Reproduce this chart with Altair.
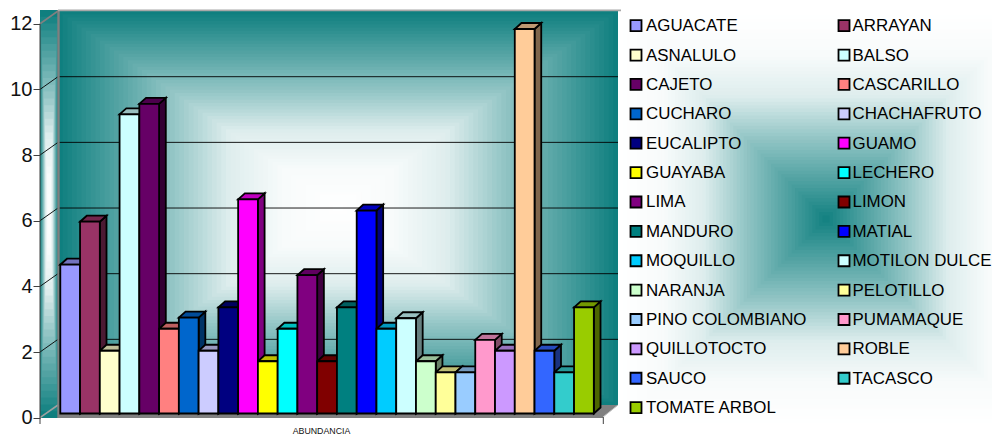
import altair as alt
import numpy as np
import pandas as pd

names = ["AGUACATE", "ARRAYAN", "ASNALULO", "BALSO", "CAJETO", "CASCARILLO", "CUCHARO",
         "CHACHAFRUTO", "EUCALIPTO", "GUAMO", "GUAYABA", "LECHERO", "LIMA", "LIMON",
         "MANDURO", "MATIAL", "MOQUILLO", "MOTILON DULCE", "NARANJA", "PELOTILLO",
         "PINO COLOMBIANO", "PUMAMAQUE", "QUILLOTOCTO", "ROBLE", "SAUCO", "TACASCO",
         "TOMATE ARBOL"]
values = [4.66, 5.97, 2.04, 9.24, 9.56, 2.71, 3.05, 2.04, 3.36, 6.65, 1.72, 2.71, 4.34, 1.72,
          3.36, 6.31, 2.71, 3.03, 1.72, 1.38, 1.38, 2.37, 2.04, 11.84, 2.04, 1.38, 3.36]
colors = ["#9999ff", "#993366", "#ffffcc", "#ccffff", "#660066", "#ff8080", "#0066cc",
          "#ccccff", "#000080", "#ff00ff", "#ffff00", "#00ffff", "#800080", "#800000",
          "#008080", "#0000ff", "#00ccff", "#ccffff", "#ccffcc", "#ffff99",
          "#99ccff", "#ff99cc", "#cc99ff", "#ffcc99", "#3366ff", "#33cccc", "#99cc00"]
y_ticks = [0, 2, 4, 6, 8, 10, 12]
FONT = "Liberation Sans"
TEAL = "#0f7f7f"

# page pixel <-> data unit (x in bar slots, y in axis values)
SLOT, SLOT0 = 19.76, 60.3
UNIT, ZERO = 32.83, 417.7
def sx(p): return (p - SLOT0) / SLOT
def sy(p): return (ZERO - p) / UNIT

LEFT, RIGHT, TOP, BOTTOM = 40, 992, 10, 434
DX, DY = 6.7 / SLOT, 6.0 / UNIT
BASE = sy(413.5)
xs = alt.Scale(domain=[sx(LEFT), sx(RIGHT)], nice=False, zero=False)
ys = alt.Scale(domain=[sy(BOTTOM), sy(TOP)], nice=False, zero=False)
AX = alt.Axis(values=y_ticks, domain=False, grid=False, tickSize=7, tickColor="#404040", tickWidth=1,
              labelFont=FONT, labelFontSize=20, labelColor="#111111", labelPadding=1, format="d")
X = alt.X("x:Q", scale=xs, axis=None)
Y = alt.Y("y:Q", scale=ys, title=None, axis=AX)
X2 = alt.X2("x2:Q")
Y2 = alt.Y2("y2:Q")

def rgb(h): return np.array([int(h[i:i + 2], 16) for i in (1, 3, 5)], float)
def hexs(a): return "#%02x%02x%02x" % tuple(int(round(v)) for v in a)
def shade(h, f): return hexs(rgb(h) * f)
def mix(a, b, m): return hexs(rgb(a) * (1 - m) + rgb(b) * m)

CURVE_T = [0, .18, .4, .6, .8, 1]
CURVE_M = [0, .25, .55, .86, .97, 1]

def pyramid(x0, x1, y0, y1, inverted=False, n=60):
    rows = []
    for k in range(n):
        t = k / n
        hx, hy = (x1 - x0) / 2 * (1 - t), (y1 - y0) / 2 * (1 - t)
        cx, cy = (x0 + x1) / 2, (y0 + y1) / 2
        m = float(np.interp(1 - t if inverted else t, CURVE_T, CURVE_M))
        rows.append({"x": sx(cx - hx), "x2": sx(cx + hx), "y": sy(cy - hy), "y2": sy(cy + hy),
                     "c": mix(TEAL, "#ffffff", m)})
    return rows

bg_rows = (pyramid(620, 1032, 12, 426, inverted=True)
           + pyramid(40, 58, 10, 418, n=30)
           + pyramid(58, 618, 11, 405))
bg = alt.Chart(pd.DataFrame(bg_rows)).mark_rect(strokeWidth=0, clip=True).encode(
    x=X, x2=X2, y=Y, y2=Y2, color=alt.Color("c:N", scale=None))

floor = alt.Chart(pd.DataFrame([
    {"y": sy(405), "x": sx(58), "x2": sx(618)},
    {"y": sy(417), "x": sx(58), "x2": sx(603)},
])).mark_area(orient="horizontal", color="#808080").encode(x=X, x2=X2, y=Y)

rules = []
def rule(x0, y0, x1, y1, c, w):
    rules.append({"x": sx(x0), "y": sy(y0), "x2": sx(x1), "y2": sy(y1), "c": c, "w": w})
for v in y_ticks[1:-1]:
    py = ZERO - v * UNIT
    rule(58, py - 12.7, 618, py - 12.7, "#000000", 0.9)
    rule(40, py, 58, py - 12.7, "#000000", 0.9)
rule(40, ZERO - 12 * UNIT, 58, 11, "#808080", 1.6)
rule(40, ZERO, 58, 405, "#a0a0a0", 1.6)
rule(58.5, 10, 58.5, 418, "#808080", 2.4)
rule(58, 10.3, 621, 10.3, "#a8a8a8", 1.8)
rule(58, 417, 603, 417, "#808080", 2.2)
rule(603, 417, 618, 405, "#c0c0c0", 1)
rule(40, ZERO - 12 * UNIT, 40, 424, "#404040", 1)
rule(603.3, 417, 603.3, 424, "#404040", 1)
rule_layer = alt.Chart(pd.DataFrame(rules)).mark_rule().encode(
    x=X, x2=X2, y=Y, y2=Y2, color=alt.Color("c:N", scale=None),
    strokeWidth=alt.StrokeWidth("w:Q", scale=None))

side_rows, top_rows, front_rows = [], [], []
for i, (v, c) in enumerate(zip(values, colors)):
    side_rows += [{"id": i, "x": i + 1, "y": BASE, "y2": v, "c": shade(c, .5)},
                  {"id": i, "x": i + 1 + DX, "y": BASE + DY, "y2": v + DY, "c": shade(c, .5)}]
    top_rows += [{"id": i, "y": v, "x": i, "x2": i + 1, "c": shade(c, .75)},
                 {"id": i, "y": v + DY, "x": i + DX, "x2": i + 1 + DX, "c": shade(c, .75)}]
    front_rows.append({"x": i, "x2": i + 1, "y": BASE, "y2": v, "c": c})

SW = 1.8
sides = alt.Chart(pd.DataFrame(side_rows)).mark_area(stroke="black", strokeWidth=SW).encode(
    x=X, y=Y, y2=Y2, detail="id:N", color=alt.Color("c:N", scale=None))
tops = alt.Chart(pd.DataFrame(top_rows)).mark_area(
    orient="horizontal", stroke="black", strokeWidth=SW).encode(
    x=X, x2=X2, y=Y, detail="id:N", color=alt.Color("c:N", scale=None))
fronts = alt.Chart(pd.DataFrame(front_rows)).mark_rect(stroke="black", strokeWidth=SW).encode(
    x=X, x2=X2, y=Y, y2=Y2, color=alt.Color("c:N", scale=None))

leg_rows = []
for i, (n, c) in enumerate(zip(names, colors)):
    row, col = i // 2, i % 2
    py = 25.7 + row * 29.38
    leg_rows.append({"name": n, "c": c, "y": sy(py),
                     "sw": sx(636 + col * 208), "x": sx(646 + col * 206.5)})
leg_df = pd.DataFrame(leg_rows)
leg_sw = alt.Chart(leg_df).mark_point(shape="square", filled=True, size=121, stroke="black",
                                      strokeWidth=1.8, opacity=1).encode(
    x=alt.X("sw:Q", scale=xs, axis=None), y=Y, fill=alt.Fill("c:N", scale=None))
leg_tx = alt.Chart(leg_df).mark_text(font=FONT, fontSize=16.9, align="left", baseline="middle",
                                     color="#000000", dy=0.5).encode(x=X, y=Y, text="name:N")

title = alt.Chart(pd.DataFrame({"x": [sx(321.5)], "y": [sy(430.5)], "t": ["ABUNDANCIA"]})).mark_text(
    font=FONT, fontSize=8.8, align="center", baseline="middle", color="#111111").encode(
    x=X, y=Y, text="t:N")

chart = alt.layer(bg, floor, rule_layer, sides, tops, fronts, leg_sw, leg_tx, title).properties(
    width=RIGHT - LEFT, height=BOTTOM - TOP,
    autosize=alt.AutoSizeParams(type="none"),
    padding={"left": LEFT - 8, "top": TOP - 8, "right": 0, "bottom": 0},
    background="#ffffff",
).configure_view(stroke=None)

chart.save("out.html", embed_options={"renderer": "svg", "actions": False})
